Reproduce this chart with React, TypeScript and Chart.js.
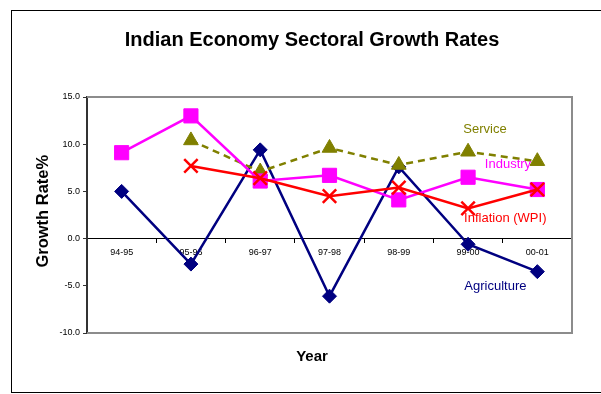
import React, { useEffect, useRef } from "react";
import { Chart, registerables } from "chart.js";

Chart.register(...registerables);

// ---- data ----
const years = ["94-95", "95-96", "96-97", "97-98", "98-99", "99-00", "00-01"];
const agriculture = [5.0, -2.7, 9.4, -6.1, 7.6, -0.6, -3.5];
const industry = [9.1, 13.0, 6.1, 6.7, 4.1, 6.5, 5.2];
const service = [null, 10.4, 7.1, 9.6, 7.8, 9.2, 8.2];
const inflation = [null, 7.7, 6.4, 4.5, 5.4, 3.2, 5.2];
const yMin = -10;
const yMax = 15;
const yStep = 5;

const seriesNames = ["Agriculture", "Industry", "Service", "Inflation (WPI)"];
const seriesColors = ["#000080", "#FF00FF", "#808000", "#FF0000"];
// label anchors in data units: [category index, value]
const labelAnchors = [
  [5.395, -5.1],
  [5.576, 7.9],
  [5.244, 11.58],
  [5.537, 2.18],
];
const yTitle = "Growth Rate%";

const FONT = "Arial, 'Liberation Sans', sans-serif";

const framePlugin = {
  id: "frame",
  beforeDraw(chart: any) {
    const { ctx, width, height } = chart;
    ctx.save();
    ctx.fillStyle = "#ffffff";
    ctx.fillRect(0, 0, width, height);
    ctx.strokeStyle = "#000000";
    ctx.lineWidth = 1;
    ctx.strokeRect(11.5, 10.5, 700, 382);
    ctx.restore();
  },
  beforeDatasetsDraw(chart: any) {
    const { ctx, chartArea } = chart;
    const { left, right, top, bottom } = chartArea;
    ctx.save();
    ctx.strokeStyle = "#8c8c8c";
    ctx.lineWidth = 2;
    ctx.beginPath();
    ctx.moveTo(left, top);
    ctx.lineTo(right, top);
    ctx.lineTo(right, bottom);
    ctx.lineTo(left, bottom);
    ctx.stroke();
    ctx.restore();
  },
  afterDatasetsDraw(chart: any) {
    const { ctx } = chart;
    const xs = chart.scales.x;
    const ys = chart.scales.y;
    ctx.save();
    ctx.font = `13px ${FONT}`;
    ctx.textAlign = "center";
    ctx.textBaseline = "middle";
    seriesNames.forEach((name, i) => {
      const [cx, cy] = labelAnchors[i];
      ctx.fillStyle = seriesColors[i];
      ctx.fillText(name, xs.getPixelForValue(cx), ys.getPixelForValue(cy));
    });
    // y axis title
    ctx.translate(43, ys.getPixelForValue(2.9));
    ctx.rotate(-Math.PI / 2);
    ctx.font = `bold 16.5px ${FONT}`;
    ctx.fillStyle = "#000";
    ctx.fillText(yTitle, 0, 0);
    ctx.restore();
  },
};

export default function App() {
  const ref = useRef<HTMLCanvasElement>(null);

  useEffect(() => {
    if (!ref.current) return;
    const chart = new Chart(ref.current, {
      type: "line",
      data: {
        labels: years,
        datasets: [
          {
            label: seriesNames[3],
            data: inflation,
            borderColor: seriesColors[3],
            backgroundColor: seriesColors[3],
            borderWidth: 2.5,
            pointStyle: "crossRot",
            pointRadius: 9.5,
            pointBorderWidth: 2.5,
            pointBorderColor: seriesColors[3],
            tension: 0,
            order: 0,
          },
          {
            label: seriesNames[1],
            data: industry,
            borderColor: seriesColors[1],
            backgroundColor: seriesColors[1],
            borderWidth: 2.5,
            pointStyle: "rect",
            pointRadius: 10,
            pointBorderWidth: 1,
            tension: 0,
            order: 1,
          },
          {
            label: seriesNames[2],
            data: service,
            borderColor: seriesColors[2],
            backgroundColor: seriesColors[2],
            borderWidth: 2.5,
            borderDash: [7, 5],
            pointStyle: "triangle",
            pointRadius: 8.5,
            pointBorderWidth: 1,
            tension: 0,
            order: 2,
          },
          {
            label: seriesNames[0],
            data: agriculture,
            borderColor: seriesColors[0],
            backgroundColor: seriesColors[0],
            borderWidth: 2.5,
            pointStyle: "rectRot",
            pointRadius: 7,
            pointBorderWidth: 1,
            tension: 0,
            order: 3,
          },
        ],
      },
      options: {
        responsive: false,
        animation: false,
        devicePixelRatio: 1,
        layout: { padding: { left: 52, right: 29, top: 0, bottom: 0 } },
        plugins: {
          legend: { display: false },
          tooltip: { enabled: false },
          title: {
            display: true,
            text: "Indian Economy Sectoral Growth Rates",
            color: "#000",
            font: { family: FONT, size: 20, weight: "bold" },
            padding: { top: 28, bottom: 45 },
          },
          subtitle: {
            display: true,
            position: "bottom",
            text: "Year",
            color: "#000",
            font: { family: FONT, size: 15, weight: "bold" },
            padding: { top: 15, bottom: 28 },
          },
        },
        scales: {
          x: {
            type: "category",
            position: { y: 0 },
            offset: true,
            afterFit: (s: any) => {
              s.height = 0;
            },
            grid: {
              display: true,
              offset: true,
              drawOnChartArea: false,
              drawTicks: true,
              tickLength: 4,
              color: "#000",
            },
            border: { display: true, color: "#000", width: 1 },
            ticks: {
              color: "#000",
              font: { family: FONT, size: 9 },
              padding: 5,
              maxRotation: 0,
              autoSkip: false,
            },
            title: { display: false },
          },
          y: {
            position: "left",
            min: yMin,
            max: yMax,
            afterFit: (s: any) => {
              s.width = 35;
            },
            grid: {
              display: true,
              drawOnChartArea: false,
              drawTicks: true,
              tickLength: 4,
              color: "#333",
            },
            border: { display: true, color: "#333", width: 2 },
            ticks: {
              stepSize: yStep,
              color: "#000",
              font: { family: FONT, size: 9 },
              padding: 3,
              callback: (v: any) => Number(v).toFixed(1),
            },
            title: { display: false },
          },
        },
      },
      plugins: [framePlugin],
    } as any);
    return () => chart.destroy();
  }, []);

  return (
    <div
      style={{
        position: "fixed",
        left: 0,
        top: 0,
        width: 601,
        height: 394,
        background: "#fff",
      }}
    >
      <canvas
        ref={ref}
        width={601}
        height={394}
        style={{ display: "block", width: 601, height: 394 }}
      />
    </div>
  );
}
